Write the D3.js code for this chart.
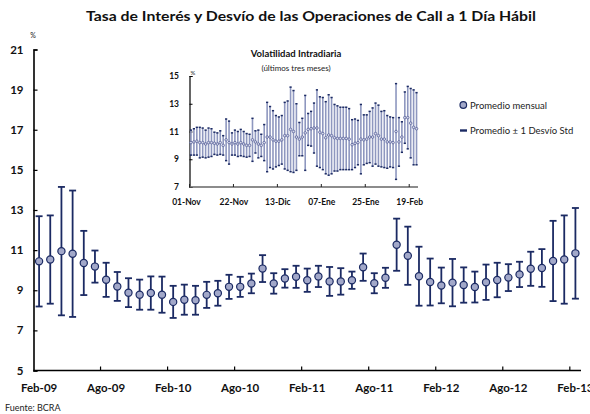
<!DOCTYPE html>
<html>
<head>
<meta charset="utf-8">
<script src="https://cdn.jsdelivr.net/npm/d3@7"></script>
<style>
  html, body { margin:0; padding:0; background:#fff; }
  svg { display:block; font-family: Lato, "Open Sans", sans-serif; }
</style>
</head>
<body>
<div id="chart"></div>
<script>
// Tasa de interés call 1 día hábil: promedio mensual +/- 1 desvío, con recuadro diario
const months = [
  'Feb-09','Mar-09','Abr-09','May-09','Jun-09','Jul-09','Ago-09','Sep-09','Oct-09','Nov-09','Dic-09','Ene-10',
  'Feb-10','Mar-10','Abr-10','May-10','Jun-10','Jul-10','Ago-10','Sep-10','Oct-10','Nov-10','Dic-10','Ene-11',
  'Feb-11','Mar-11','Abr-11','May-11','Jun-11','Jul-11','Ago-11','Sep-11','Oct-11','Nov-11','Dic-11','Ene-12',
  'Feb-12','Mar-12','Abr-12','May-12','Jun-12','Jul-12','Ago-12','Sep-12','Oct-12','Nov-12','Dic-12','Ene-13',
  'Feb-13'
];
const promedio = [
  10.44, 10.53, 10.95, 10.82, 10.36, 10.18, 9.52, 9.19, 8.88, 8.78, 8.86, 8.78,
  8.42, 8.53, 8.5, 8.77, 8.85, 9.17, 9.17, 9.34, 10.08, 9.34, 9.59, 9.67,
  9.5, 9.69, 9.44, 9.44, 9.5, 10.15, 9.35, 9.62, 11.27, 10.72, 9.7, 9.41,
  9.24, 9.38, 9.26, 9.16, 9.4, 9.51, 9.63, 9.79, 10.07, 10.11, 10.46, 10.53,
  10.84
];
const desvio = [
  2.25, 2.2, 3.2, 3.15, 1.6, 0.8, 0.85, 0.72, 0.72, 0.75, 0.83, 0.9,
  0.8, 0.75, 0.72, 0.65, 0.62, 0.6, 0.5, 0.49, 0.67, 0.51, 0.46, 0.55,
  0.58, 0.53, 0.72, 0.66, 0.43, 0.68, 0.5, 0.5, 1.3, 1.45, 1.47, 1.17,
  0.89, 1.18, 0.88, 0.77, 0.88, 0.86, 0.67, 0.63, 0.85, 0.94, 2.0, 2.2,
  2.26
];
const xTickLabels = ['Feb-09','Ago-09','Feb-10','Ago-10','Feb-11','Ago-11','Feb-12','Ago-12','Feb-13'];
const yTicks = [5, 7, 9, 11, 13, 15, 17, 19, 21];

// recuadro: volatilidad intradiaria, últimos tres meses (días hábiles)
const diaLabels = ['01-Nov','22-Nov','13-Dic','07-Ene','25-Ene','19-Feb'];
const diaPromedio = [
  10.2, 10.25, 10.3, 10.2, 10.2, 10.1, 10.2, 10.2, 10.15, 10.1,
  10.2, 10.0, 10.4, 10.2, 10.1, 10.2, 10.1, 10.2, 10.1, 10.0,
  10.0, 10.4, 10.25, 10.1, 10.0, 10.2, 10.6, 10.6, 10.4, 10.3,
  10.3, 10.4, 10.7, 10.7, 11.15, 11.0, 10.6, 10.45, 10.6, 10.9,
  11.15, 11.2, 11.25, 11.25, 10.95, 10.85, 10.55, 10.75, 10.7, 10.55,
  10.5, 10.5, 10.5, 10.5, 10.45, 10.05, 10.15, 10.2, 10.45, 10.4,
  10.45, 10.6, 10.6, 10.85, 10.7, 10.45, 10.45, 10.25, 10.25, 10.2,
  11.0, 10.25, 10.6, 12.0, 12.0, 11.6, 11.3, 11.2
];
const diaDesvio = [
  0.9, 0.95, 1.0, 1.1, 1.05, 1.0, 1.05, 1.0, 0.8, 0.8,
  0.85, 0.7, 1.5, 1.55, 0.8, 0.9, 0.9, 0.95, 0.9, 0.85,
  0.8, 1.55, 0.8, 1.0, 0.8, 1.3, 2.5, 2.2, 2.1, 1.85,
  1.75, 1.75, 2.4, 2.5, 3.05, 2.95, 2.4, 1.2, 1.35, 2.7,
  1.15, 1.25, 1.8, 2.75, 2.55, 2.6, 2.6, 2.9, 2.75, 2.4,
  2.35, 2.25, 2.25, 2.25, 2.2, 1.8, 1.75, 1.6, 2.5, 1.8,
  1.75, 1.85, 2.1, 2.2, 2.2, 2.0, 2.05, 1.9, 1.8, 1.8,
  3.45, 1.75, 1.1, 1.85, 2.25, 2.5, 2.7, 2.6
];
const insetYTicks = [7, 9, 11, 13, 15];

const W = 590, H = 414;
const navy = '#1b2a63';
const markFill = '#a2a8c9';

const svg = d3.select('#chart').append('svg')
  .attr('width', W)
  .attr('height', H);

// title
svg.append('text')
  .attr('x', 311).attr('y', 21)
  .attr('text-anchor', 'middle')
  .attr('font-size', '14px')
  .attr('font-weight', 'bold')
  .attr('fill', '#111')
  .attr('textLength', 450)
  .attr('lengthAdjust', 'spacingAndGlyphs')
  .text('Tasa de Interés y Desvío de las Operaciones de Call a 1 Día Hábil');

// main scales
const x = d3.scaleBand().domain(months).range([33.5, 581]).padding(0);
const y = d3.scaleLinear().domain([5, 21]).range([370.5, 49.5]);
const cx = d => x(d) + x.bandwidth() / 2;

// y axis
const yAxis = svg.append('g')
  .attr('transform', 'translate(33.5,0)')
  .call(d3.axisRight(y).tickValues(yTicks).tickSize(4).tickFormat(''));
yAxis.select('.domain').attr('stroke', '#000').attr('stroke-width', 1.6);
yAxis.selectAll('.tick line').attr('stroke', '#000').attr('stroke-width', 1.2);

svg.append('g').selectAll('text').data(yTicks).enter().append('text')
  .attr('x', 23.5)
  .attr('y', d => y(d) + 4)
  .attr('text-anchor', 'end')
  .attr('font-size', '11.5px')
  .attr('font-weight', 'bold')
  .attr('fill', '#111')
  .text(d => d);

svg.append('text')
  .attr('x', 33).attr('y', 38)
  .attr('text-anchor', 'middle')
  .attr('font-size', '7px')
  .attr('fill', '#222')
  .text('%');

// x axis: ticks between categories, labels centered on category
const xAxis = svg.append('g')
  .attr('transform', 'translate(0,370.5)');
xAxis.append('line')
  .attr('x1', 33.5).attr('x2', 581)
  .attr('stroke', '#000').attr('stroke-width', 1.6);
xAxis.selectAll('line.tk').data(xTickLabels.slice(1)).enter().append('line')
  .attr('class', 'tk')
  .attr('x1', d => x(d)).attr('x2', d => x(d))
  .attr('y1', 0).attr('y2', -4)
  .attr('stroke', '#000').attr('stroke-width', 1.2);
xAxis.selectAll('text').data(xTickLabels).enter().append('text')
  .attr('x', d => cx(d))
  .attr('y', 21)
  .attr('text-anchor', 'middle')
  .attr('font-size', '11.5px')
  .attr('font-weight', 'bold')
  .attr('fill', '#111')
  .text(d => d);

// error bars
const bars = svg.append('g');
months.forEach((m, i) => {
  const hi = y(promedio[i] + desvio[i]), lo = y(promedio[i] - desvio[i]);
  const g = bars.append('g');
  g.append('line').attr('x1', cx(m)).attr('x2', cx(m)).attr('y1', hi).attr('y2', lo)
    .attr('stroke', navy).attr('stroke-width', 1.8);
  g.append('line').attr('x1', cx(m) - 3.5).attr('x2', cx(m) + 3.5).attr('y1', hi).attr('y2', hi)
    .attr('stroke', navy).attr('stroke-width', 1.8);
  g.append('line').attr('x1', cx(m) - 3.5).attr('x2', cx(m) + 3.5).attr('y1', lo).attr('y2', lo)
    .attr('stroke', navy).attr('stroke-width', 1.8);
});
svg.append('g').selectAll('circle').data(months).enter().append('circle')
  .attr('cx', d => cx(d))
  .attr('cy', (d, i) => y(promedio[i]))
  .attr('r', 3.6)
  .attr('fill', markFill)
  .attr('stroke', navy)
  .attr('stroke-width', 1.2);

// legend
const leg = svg.append('g');
leg.append('circle').attr('cx', 463.3).attr('cy', 105).attr('r', 3.3)
  .attr('fill', markFill).attr('stroke', navy).attr('stroke-width', 1.2);
leg.append('text').attr('x', 470).attr('y', 108.5)
  .attr('font-size', '9.5px').attr('fill', '#222').text('Promedio mensual');
leg.append('line').attr('x1', 460).attr('x2', 467).attr('y1', 130.5).attr('y2', 130.5)
  .attr('stroke', navy).attr('stroke-width', 2.4);
leg.append('text').attr('x', 470).attr('y', 134)
  .attr('font-size', '9.5px').attr('fill', '#222').text('Promedio ± 1 Desvío Std');

// inset
const dias = diaPromedio.map((d, i) => i);
const ix = d3.scaleBand().domain(dias).range([189.5, 418]).padding(0);
const iy = d3.scaleLinear().domain([7, 15]).range([187, 76]);
const icx = d => ix(d) + ix.bandwidth() / 2;

svg.append('text')
  .attr('x', 296).attr('y', 57)
  .attr('text-anchor', 'middle')
  .attr('font-size', '9.5px')
  .attr('font-weight', 'bold')
  .attr('fill', '#111')
  .text('Volatilidad Intradiaria');
svg.append('text')
  .attr('x', 296).attr('y', 71)
  .attr('text-anchor', 'middle')
  .attr('font-size', '8px')
  .attr('fill', '#222')
  .text('(últimos tres meses)');

const iyAxis = svg.append('g')
  .attr('transform', 'translate(189.5,0)')
  .call(d3.axisRight(iy).tickValues(insetYTicks).tickSize(3).tickFormat(''));
iyAxis.select('.domain').attr('stroke', '#000').attr('stroke-width', 1.2);
iyAxis.selectAll('.tick line').attr('stroke', '#000');
svg.append('g').selectAll('text').data(insetYTicks).enter().append('text')
  .attr('x', 179)
  .attr('y', d => iy(d) + 3)
  .attr('text-anchor', 'end')
  .attr('font-size', '8.5px')
  .attr('font-weight', 'bold')
  .attr('fill', '#111')
  .text(d => d);
svg.append('text')
  .attr('x', 193).attr('y', 75)
  .attr('text-anchor', 'middle')
  .attr('font-size', '6px')
  .attr('fill', '#222')
  .text('%');

const ixAxis = svg.append('g').attr('transform', 'translate(0,187)');
ixAxis.append('line').attr('x1', 189.5).attr('x2', 418)
  .attr('stroke', '#666').attr('stroke-width', 1.6);
ixAxis.selectAll('line.tk').data(diaLabels).enter().append('line')
  .attr('class', 'tk')
  .attr('x1', (d, i) => ix(i * 15)).attr('x2', (d, i) => ix(i * 15))
  .attr('y1', 0).attr('y2', -3)
  .attr('stroke', '#222').attr('stroke-width', 1);
ixAxis.selectAll('text').data(diaLabels).enter().append('text')
  .attr('x', (d, i) => ix(i * 15) + (i === 0 ? -3 : 0.5))
  .attr('y', 18)
  .attr('text-anchor', 'middle')
  .attr('font-size', '8.5px')
  .attr('font-weight', 'bold')
  .attr('fill', '#111')
  .text(d => d);

const ibars = svg.append('g');
dias.forEach(i => {
  const hi = iy(diaPromedio[i] + diaDesvio[i]), lo = iy(diaPromedio[i] - diaDesvio[i]);
  ibars.append('line').attr('x1', icx(i)).attr('x2', icx(i)).attr('y1', hi).attr('y2', lo)
    .attr('stroke', '#8e97bf').attr('stroke-width', 1.6);
  ibars.append('line').attr('x1', icx(i) - 1.1).attr('x2', icx(i) + 1.1).attr('y1', hi).attr('y2', hi)
    .attr('stroke', navy).attr('stroke-width', 1.5);
  ibars.append('line').attr('x1', icx(i) - 1.1).attr('x2', icx(i) + 1.1).attr('y1', lo).attr('y2', lo)
    .attr('stroke', navy).attr('stroke-width', 1.5);
});
svg.append('g').selectAll('circle').data(dias).enter().append('circle')
  .attr('cx', d => icx(d))
  .attr('cy', d => iy(diaPromedio[d]))
  .attr('r', 1.3)
  .attr('fill', '#d6d9ea')
  .attr('stroke', '#4a5590')
  .attr('stroke-width', 0.7);

// source
svg.append('text')
  .attr('x', 5).attr('y', 411)
  .attr('font-size', '9px')
  .attr('fill', '#222')
  .text('Fuente: BCRA');
</script>
</body>
</html>
